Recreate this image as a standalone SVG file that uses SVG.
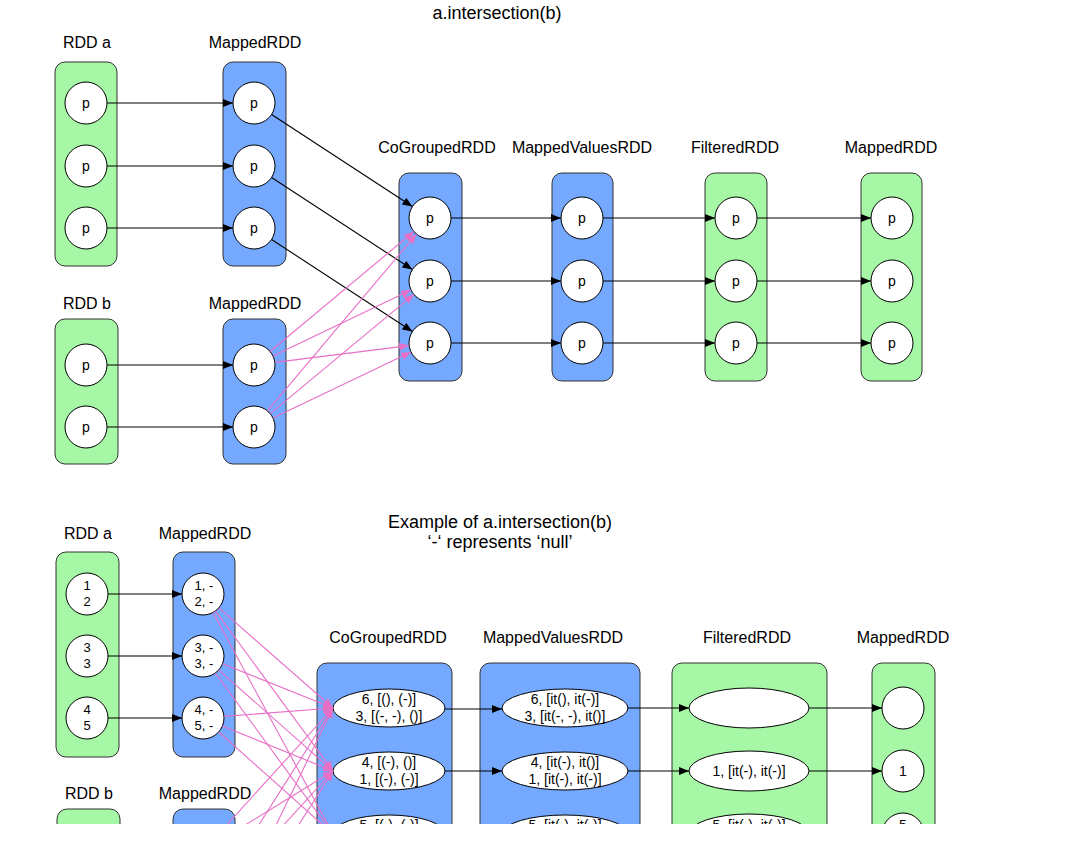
<svg xmlns="http://www.w3.org/2000/svg" width="1074" height="864" viewBox="0 0 1074 864">
  <style>
    text { font-family: "Liberation Sans", Arial, Helvetica, sans-serif; fill: #000; text-anchor: middle; }
    .title { font-size: 18px; }
    .lbl { font-size: 16px; }
    .p { font-size: 14px; }
    .v { font-size: 13px; }
    .e { font-size: 14px; }
    .green { fill: #a6f7a6; stroke: #333; stroke-width: 1; }
    .blue { fill: #75a8ff; stroke: #333; stroke-width: 1; }
    .part { fill: #fff; stroke: #000; stroke-width: 1; }
    .dep { fill: none; stroke: #000; stroke-width: 1.1; marker-end: url(#ah); }
    .shuf { fill: none; stroke: #e76fc6; stroke-width: 1.1; marker-end: url(#ahp); }
  </style>
  <defs>
    <marker id="ah" viewBox="0 0 10 8" refX="10" refY="4" markerWidth="10" markerHeight="8" orient="auto" markerUnits="userSpaceOnUse">
      <path d="M0,0 L10,4 L0,8 z" fill="#000"/>
    </marker>
    <marker id="ahp" viewBox="0 0 10 8" refX="10" refY="4" markerWidth="10" markerHeight="8" orient="auto" markerUnits="userSpaceOnUse">
      <path d="M0,0 L10,4 L0,8 z" fill="#e76fc6"/>
    </marker>
    <clipPath id="cut">
      <rect x="0" y="0" width="1074" height="824"/>
    </clipPath>
  </defs>

  <rect x="0" y="0" width="1074" height="864" fill="#fff"/>

  <!-- ===== a.intersection(b): RDD chain ===== -->
  <text class="title" x="497" y="19">a.intersection(b)</text>

  <g id="top-rdd-a">
    <text class="lbl" x="87" y="48">RDD a</text>
    <rect class="green" x="55" y="62" width="62" height="204" rx="10"/>
    <circle class="part" cx="86" cy="103" r="21"/><text class="p" x="86" y="108">p</text>
    <circle class="part" cx="86" cy="166" r="21"/><text class="p" x="86" y="171">p</text>
    <circle class="part" cx="86" cy="228" r="21"/><text class="p" x="86" y="233">p</text>
  </g>

  <g id="top-mapped-a">
    <text class="lbl" x="255" y="48">MappedRDD</text>
    <rect class="blue" x="223" y="62" width="63" height="204" rx="10"/>
    <circle class="part" cx="254" cy="103" r="21"/><text class="p" x="254" y="108">p</text>
    <circle class="part" cx="254" cy="166" r="21"/><text class="p" x="254" y="171">p</text>
    <circle class="part" cx="254" cy="228" r="21"/><text class="p" x="254" y="233">p</text>
  </g>

  <g id="top-rdd-b">
    <text class="lbl" x="87" y="309">RDD b</text>
    <rect class="green" x="55" y="319" width="63" height="145" rx="10"/>
    <circle class="part" cx="86" cy="365" r="21"/><text class="p" x="86" y="370">p</text>
    <circle class="part" cx="86" cy="427" r="21"/><text class="p" x="86" y="432">p</text>
  </g>

  <g id="top-mapped-b">
    <text class="lbl" x="255" y="309">MappedRDD</text>
    <rect class="blue" x="223" y="319" width="63" height="145" rx="10"/>
    <circle class="part" cx="254" cy="365" r="21"/><text class="p" x="254" y="370">p</text>
    <circle class="part" cx="254" cy="427" r="21"/><text class="p" x="254" y="432">p</text>
  </g>

  <g id="top-cogrouped">
    <text class="lbl" x="437" y="153">CoGroupedRDD</text>
    <rect class="blue" x="399" y="173" width="63" height="208" rx="10"/>
    <circle class="part" cx="430" cy="218" r="21"/><text class="p" x="430" y="223">p</text>
    <circle class="part" cx="430" cy="281" r="21"/><text class="p" x="430" y="286">p</text>
    <circle class="part" cx="430" cy="343" r="21"/><text class="p" x="430" y="348">p</text>
  </g>

  <g id="top-mappedvalues">
    <text class="lbl" x="582" y="153">MappedValuesRDD</text>
    <rect class="blue" x="552" y="173" width="61" height="208" rx="10"/>
    <circle class="part" cx="582" cy="218" r="21"/><text class="p" x="582" y="223">p</text>
    <circle class="part" cx="582" cy="281" r="21"/><text class="p" x="582" y="286">p</text>
    <circle class="part" cx="582" cy="343" r="21"/><text class="p" x="582" y="348">p</text>
  </g>

  <g id="top-filtered">
    <text class="lbl" x="735" y="153">FilteredRDD</text>
    <rect class="green" x="705" y="173" width="62" height="208" rx="10"/>
    <circle class="part" cx="736" cy="218" r="21"/><text class="p" x="736" y="223">p</text>
    <circle class="part" cx="736" cy="281" r="21"/><text class="p" x="736" y="286">p</text>
    <circle class="part" cx="736" cy="343" r="21"/><text class="p" x="736" y="348">p</text>
  </g>

  <g id="top-mapped-out">
    <text class="lbl" x="891" y="153">MappedRDD</text>
    <rect class="green" x="861" y="173" width="61" height="208" rx="10"/>
    <circle class="part" cx="892" cy="218" r="21"/><text class="p" x="892" y="223">p</text>
    <circle class="part" cx="892" cy="281" r="21"/><text class="p" x="892" y="286">p</text>
    <circle class="part" cx="892" cy="343" r="21"/><text class="p" x="892" y="348">p</text>
  </g>

  <g id="top-connectors">
    <!-- map a / map b -->
    <line class="dep" x1="107" y1="103" x2="233" y2="103"/>
    <line class="dep" x1="107" y1="166" x2="233" y2="166"/>
    <line class="dep" x1="107" y1="228" x2="233" y2="228"/>
    <line class="dep" x1="107" y1="365" x2="233" y2="365"/>
    <line class="dep" x1="107" y1="427" x2="233" y2="427"/>
    <!-- narrow dependencies into the cogroup -->
    <line class="dep" x1="271.6" y1="114.5" x2="412.4" y2="206.5"/>
    <line class="dep" x1="271.6" y1="177.5" x2="412.4" y2="269.5"/>
    <line class="dep" x1="271.6" y1="239.5" x2="412.4" y2="331.5"/>
    <!-- shuffle dependencies from b -->
    <line class="shuf" x1="270.1" y1="351.5" x2="413.9" y2="231.5"/>
    <line class="shuf" x1="273.0" y1="356.0" x2="411.0" y2="290.0"/>
    <line class="shuf" x1="274.8" y1="362.4" x2="409.2" y2="345.6"/>
    <line class="shuf" x1="267.5" y1="410.9" x2="416.5" y2="234.1"/>
    <line class="shuf" x1="270.2" y1="413.6" x2="413.8" y2="294.4"/>
    <line class="shuf" x1="273.0" y1="418.0" x2="411.0" y2="352.0"/>
    <!-- one-to-one chain -->
    <line class="dep" x1="451" y1="218" x2="561" y2="218"/>
    <line class="dep" x1="451" y1="281" x2="561" y2="281"/>
    <line class="dep" x1="451" y1="343" x2="561" y2="343"/>
    <line class="dep" x1="603" y1="218" x2="715" y2="218"/>
    <line class="dep" x1="603" y1="281" x2="715" y2="281"/>
    <line class="dep" x1="603" y1="343" x2="715" y2="343"/>
    <line class="dep" x1="757" y1="218" x2="871" y2="218"/>
    <line class="dep" x1="757" y1="281" x2="871" y2="281"/>
    <line class="dep" x1="757" y1="343" x2="871" y2="343"/>
  </g>

  <!-- ===== Worked example with values ===== -->
  <text class="title" x="500" y="528">Example of a.intersection(b)</text>
  <text class="title" x="500" y="548">‘-‘ represents ‘null’</text>

  <g clip-path="url(#cut)">
    <g id="ex-rdd-a">
      <text class="lbl" x="88" y="539">RDD a</text>
      <rect class="green" x="56" y="552" width="63" height="205" rx="10"/>
      <circle class="part" cx="87" cy="594" r="21"/>
      <text class="v" x="87" y="590">1</text><text class="v" x="87" y="606">2</text>
      <circle class="part" cx="87" cy="656" r="21"/>
      <text class="v" x="87" y="652">3</text><text class="v" x="87" y="668">3</text>
      <circle class="part" cx="87" cy="718" r="21"/>
      <text class="v" x="87" y="714">4</text><text class="v" x="87" y="730">5</text>
    </g>

    <g id="ex-mapped-a">
      <text class="lbl" x="205" y="539">MappedRDD</text>
      <rect class="blue" x="173" y="552" width="62" height="205" rx="10"/>
      <circle class="part" cx="203" cy="594" r="21"/>
      <text class="v" x="204" y="590">1, -</text><text class="v" x="204" y="606">2, -</text>
      <circle class="part" cx="203" cy="656" r="21"/>
      <text class="v" x="204" y="652">3, -</text><text class="v" x="204" y="668">3, -</text>
      <circle class="part" cx="203" cy="718" r="21"/>
      <text class="v" x="204" y="714">4, -</text><text class="v" x="204" y="730">5, -</text>
    </g>

    <g id="ex-rdd-b">
      <text class="lbl" x="89" y="799">RDD b</text>
      <rect class="green" x="57" y="809" width="63" height="205" rx="10"/>
    </g>

    <g id="ex-mapped-b">
      <text class="lbl" x="205" y="799">MappedRDD</text>
      <rect class="blue" x="173" y="809" width="62" height="205" rx="10"/>
    </g>

    <g id="ex-cogrouped">
      <text class="lbl" x="388" y="643">CoGroupedRDD</text>
      <rect class="blue" x="317" y="663" width="135" height="220" rx="10"/>
      <ellipse class="part" cx="389" cy="708" rx="56" ry="19"/>
      <text class="e" x="389" y="704">6, [(), (-)]</text><text class="e" x="389" y="721">3, [(-, -), ()]</text>
      <ellipse class="part" cx="389" cy="771" rx="56" ry="19"/>
      <text class="e" x="389" y="767">4, [(-), ()]</text><text class="e" x="389" y="784">1, [(-), (-)]</text>
      <ellipse class="part" cx="389" cy="834" rx="56" ry="19"/>
      <text class="e" x="389" y="830">5, [(-), (-)]</text>
    </g>

    <g id="ex-mappedvalues">
      <text class="lbl" x="553" y="643">MappedValuesRDD</text>
      <rect class="blue" x="480" y="663" width="160" height="220" rx="10"/>
      <ellipse class="part" cx="565" cy="708" rx="63" ry="19"/>
      <text class="e" x="565" y="704">6, [it(), it(-)]</text><text class="e" x="565" y="721">3, [it(-, -), it()]</text>
      <ellipse class="part" cx="565" cy="771" rx="63" ry="19"/>
      <text class="e" x="565" y="767">4, [it(-), it()]</text><text class="e" x="565" y="784">1, [it(-), it(-)]</text>
      <ellipse class="part" cx="565" cy="834" rx="63" ry="19"/>
      <text class="e" x="565" y="830">5, [it(-), it(-)]</text>
    </g>

    <g id="ex-filtered">
      <text class="lbl" x="747" y="643">FilteredRDD</text>
      <rect class="green" x="672" y="663" width="155" height="220" rx="10"/>
      <ellipse class="part" cx="749" cy="708" rx="60" ry="20"/>
      <ellipse class="part" cx="749" cy="771" rx="60" ry="20"/>
      <text class="e" x="749" y="776">1, [it(-), it(-)]</text>
      <ellipse class="part" cx="749" cy="834" rx="60" ry="20"/>
      <text class="e" x="749" y="830">5, [it(-), it(-)]</text>
    </g>

    <g id="ex-mapped-out">
      <text class="lbl" x="903" y="643">MappedRDD</text>
      <rect class="green" x="872" y="663" width="63" height="220" rx="10"/>
      <circle class="part" cx="903" cy="708" r="21"/>
      <circle class="part" cx="903" cy="771" r="21"/>
      <text class="e" x="903" y="776">1</text>
      <circle class="part" cx="903" cy="834" r="21"/>
      <text class="e" x="903" y="830">5</text>
    </g>

    <g id="ex-connectors">
      <line class="dep" x1="108" y1="594" x2="182" y2="594"/>
      <line class="dep" x1="108" y1="656" x2="182" y2="656"/>
      <line class="dep" x1="108" y1="718" x2="182" y2="718"/>
      <!-- shuffle from mapped a -->
      <line class="shuf" x1="218.8" y1="607.8" x2="333" y2="708"/>
      <line class="shuf" x1="215.4" y1="610.9" x2="333" y2="771"/>
      <line class="shuf" x1="213.0" y1="612.5" x2="333" y2="834"/>
      <line class="shuf" x1="222.5" y1="663.8" x2="333" y2="708"/>
      <line class="shuf" x1="218.7" y1="669.9" x2="333" y2="771"/>
      <line class="shuf" x1="215.4" y1="673.0" x2="333" y2="834"/>
      <line class="shuf" x1="223.9" y1="716.4" x2="333" y2="708"/>
      <line class="shuf" x1="222.4" y1="725.9" x2="333" y2="771"/>
      <line class="shuf" x1="218.7" y1="732.0" x2="333" y2="834"/>
      <!-- shuffle from mapped b -->
      <line class="shuf" x1="217.1" y1="835.5" x2="333" y2="708"/>
      <line class="shuf" x1="220.9" y1="840.0" x2="333" y2="771"/>
      <line class="shuf" x1="214.2" y1="895.3" x2="333" y2="708"/>
      <line class="shuf" x1="217.2" y1="897.5" x2="333" y2="771"/>
      <line class="shuf" x1="212.2" y1="956.1" x2="333" y2="708"/>
      <line class="shuf" x1="214.3" y1="957.3" x2="333" y2="771"/>
      <!-- value chain -->
      <line class="dep" x1="445" y1="709" x2="502" y2="709"/>
      <line class="dep" x1="445" y1="771" x2="502" y2="771"/>
      <line class="dep" x1="628" y1="708" x2="689" y2="708"/>
      <line class="dep" x1="628" y1="771" x2="689" y2="771"/>
      <line class="dep" x1="809" y1="708" x2="882" y2="708"/>
      <line class="dep" x1="809" y1="771" x2="882" y2="771"/>
    </g>
  </g>
</svg>
